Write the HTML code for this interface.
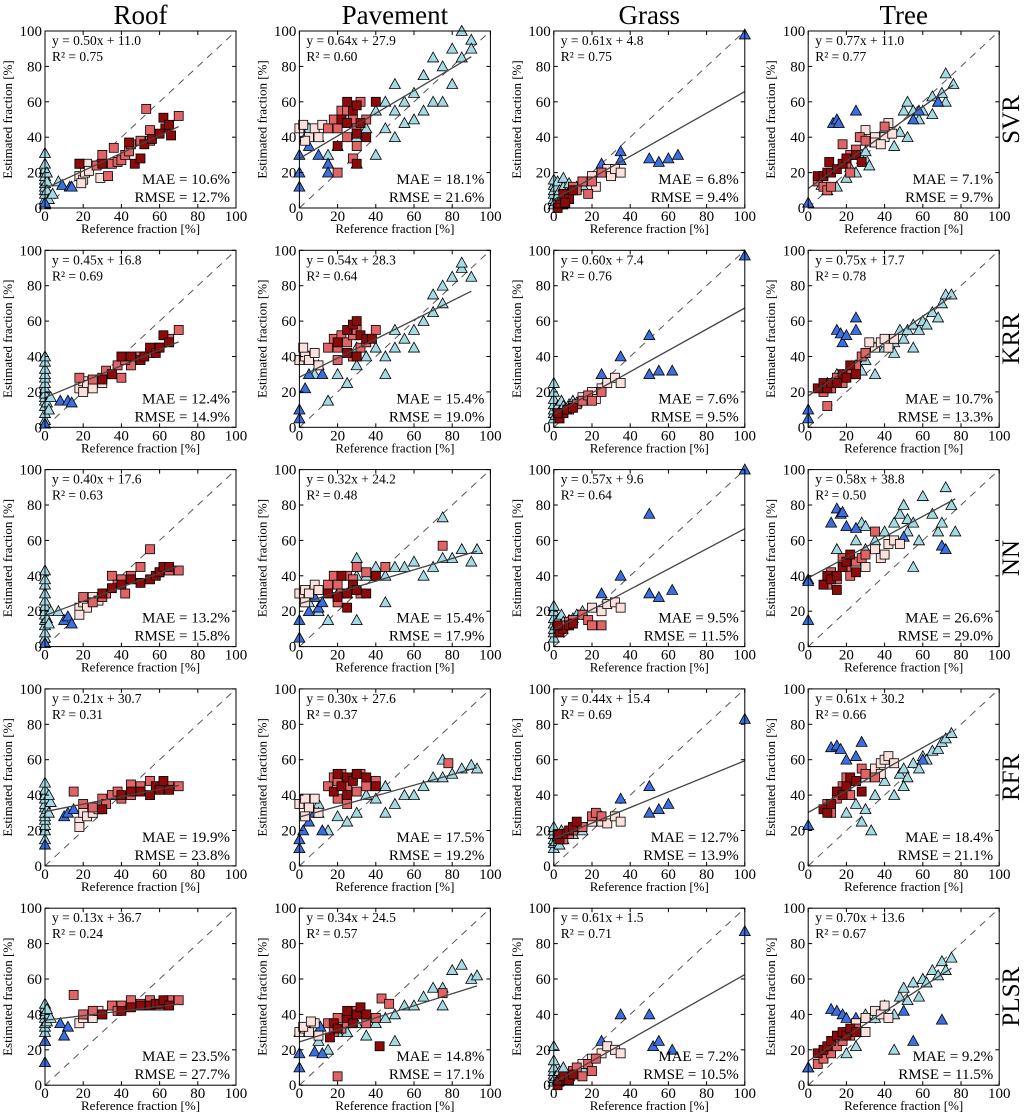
<!DOCTYPE html>
<html><head><meta charset="utf-8"><style>
body{margin:0;background:#fff}
svg{display:block;font-family:"Liberation Serif",serif}
</style></head><body>
<svg id="fig" width="1024" height="1116" viewBox="0 0 1024 1116" xmlns="http://www.w3.org/2000/svg"></svg>
<script>
const columns = ["Roof","Pavement","Grass","Tree"];
const models = ["SVR","KRR","NN","RFR","PLSR"];
const slopes = [[0.50,0.64,0.61,0.77],[0.45,0.54,0.60,0.75],[0.40,0.32,0.57,0.58],[0.21,0.30,0.44,0.61],[0.13,0.34,0.61,0.70]];
const intercepts = [[11.0,27.9,4.8,11.0],[16.8,28.3,7.4,17.7],[17.6,24.2,9.6,38.8],[30.7,27.6,15.4,30.2],[36.7,24.5,1.5,13.6]];
const r2 = [["0.75","0.60","0.75","0.77"],["0.69","0.64","0.76","0.78"],["0.63","0.48","0.64","0.50"],["0.31","0.37","0.69","0.66"],["0.24","0.57","0.71","0.67"]];
const maes = [["10.6","18.1","6.8","7.1"],["12.4","15.4","7.6","10.7"],["13.2","15.4","9.5","26.6"],["19.9","17.5","12.7","18.4"],["23.5","14.8","7.2","9.2"]];
const rmses = [["12.7","21.6","9.4","9.7"],["14.9","19.0","9.5","13.3"],["15.8","17.9","11.5","29.0"],["23.8","19.2","13.9","21.1"],["27.7","17.1","10.5","11.5"]];
const ticks = [0,20,40,60,80,100];

// point sets per panel: L light-blue tri, B blue tri, P pale sq, M mid-red sq, D dark-red sq
const svrRoof = {L:"0,2 0,5 0,8 0,10 0,12 0,14 0,16 0,18 0,20 0,22 0,25 0,31 1,15 1,10 2,5 4,8 7,15 1,20",B:"9,13 13,12 14,12 0,3",P:"18,18 20,16 21,20 22,25 23,21 19,14 29,17 32,25",M:"18,25 27,24 30,30 33,18 35,25 36,34 38,26 40,27 42,30 44,32 50,38 53,56 55,44 55,38 45,36 70,52",D:"18,25 30,25 44,37 47,25 50,28 52,36 56,39 62,51 63,45 65,47 66,41 60,42"};
const svrPave = {L:"5,45 10,40 15,30 25,50 30,40 35,45 40,30 40,55 45,60 45,45 50,55 50,40 55,60 55,48 60,65 60,50 65,55 65,75 70,60 70,85 75,80 75,60 80,90 80,70 85,100 85,85 90,95 90,90 50,70 30,25",B:"0,12 0,20 0,30 5,35 10,30 15,25 15,20 20,35 3,40",P:"0,45 2,47 5,40 8,45 10,40 3,38 12,47",M:"15,45 18,50 20,45 22,55 25,40 25,55 28,50 30,35 30,45 32,60 35,50 20,20 28,28",D:"20,35 22,50 25,48 28,55 30,58 30,42 32,48 35,40 25,60 40,60 30,25"};
const svrGrass = {L:"0,2 0,5 0,8 0,10 0,13 0,16 1,4 1,12 2,7 2,15 3,3 3,10 4,6 5,12 5,17 6,8 8,14 10,10 12,12 15,13",B:"25,25 35,32 35,27 50,28 55,26 60,28 65,30 100,98",P:"15,15 20,18 25,20 28,22 30,18 32,22 35,20 22,12",M:"5,5 8,8 10,12 12,10 15,15 18,8 20,15 5,2 25,20",D:"3,2 5,8 8,5 10,10 2,0 6,3"};
const svrTree = {L:"7,13 10,10 15,12 20,17 22,23 25,20 25,31 28,30 30,28 30,32 32,24 35,37 40,45 45,35 48,43 50,55 52,60 52,40 55,55 58,50 60,55 65,63 65,53 68,60 72,76 72,60 76,70 70,65",B:"0,3 13,48 15,50 16,48 25,55 55,50 58,55 68,60",P:"28,40 30,44 35,40 35,37 40,40 42,48 44,42 38,36",M:"5,15 8,12 10,10 12,12 18,36 20,25 22,30 25,33 27,40 30,38 40,46 22,20",D:"5,18 8,18 10,20 11,26 12,20 15,22 18,25 20,28 25,30 28,26"};
const krrRoof = {L:"0,4 0,8 0,12 0,15 0,17 0,19 0,22 0,25 0,28 0,30 0,33 0,37 0,40 1,14 2,10 3,17",B:"0,2 8,15 12,15 14,14",P:"18,22 20,26 22,24 20,20 25,22 30,25",M:"18,28 25,27 30,28 32,32 35,30 38,35 40,28 45,35 50,40 55,42 65,50 70,55 60,45 42,38",D:"30,27 40,40 45,40 50,38 52,40 55,45 58,42 60,45 62,52 65,48 35,30"};
const krrPave = {L:"5,40 8,30 15,15 20,30 25,25 30,35 35,40 40,45 45,40 50,55 50,45 55,50 60,55 60,45 65,60 70,65 70,75 75,70 75,80 80,85 85,90 85,93 90,85 30,45 45,30",B:"0,5 0,10 5,30 10,35 12,30 3,22",P:"0,38 3,40 5,38 8,42 10,35 2,45",M:"15,45 18,50 20,45 22,52 25,48 28,52 30,55 32,45 35,48 28,40 40,55 20,38",D:"20,48 25,55 28,58 30,60 32,52 35,50 25,42 30,40 38,50"};
const krrGrass = {L:"0,5 0,8 0,10 0,13 0,16 0,20 0,25 1,7 2,12 3,9 4,15 5,12 6,10 8,13 10,15 12,14 15,16",B:"25,30 35,40 50,52 50,30 55,32 62,32 100,97",P:"15,17 20,20 25,22 28,25 32,28 35,25 22,16",M:"5,8 8,10 10,12 12,13 15,15 18,18 20,15 25,20",D:"3,5 5,8 7,10 10,11 2,8"};
const krrTree = {L:"10,25 15,30 20,30 25,35 28,32 30,38 35,45 40,45 45,48 48,55 50,50 52,55 55,58 58,55 60,60 62,58 65,65 68,62 70,70 72,75 75,75 55,45 45,42 35,30",B:"0,5 0,10 15,55 17,53 18,48 20,52 25,62 25,55",P:"30,42 35,45 38,48 40,50 42,45 45,50 32,48",M:"8,20 10,12 12,22 15,28 18,25 20,30 25,35 28,40 22,30 30,42",D:"5,22 8,25 10,22 12,25 15,25 18,30 20,28 22,35 25,30"};
const nnRoof = {L:"0,5 0,8 0,12 0,15 0,18 0,20 0,23 0,26 0,30 0,35 0,38 0,43 1,16 2,13 3,20 7,20",B:"0,2 10,15 12,17 14,13",P:"18,22 20,25 22,22 25,28 18,18 28,26",M:"20,28 25,25 30,28 32,30 35,40 38,35 40,38 45,40 50,45 55,55 60,42 65,43 70,43 42,30",D:"30,30 40,35 45,38 50,36 55,38 58,40 60,42 62,45 65,45 35,33"};
const nnPave = {L:"5,25 10,20 15,15 20,30 25,30 30,50 30,40 35,40 40,45 45,40 50,45 55,45 60,48 65,40 70,45 75,50 75,73 80,50 85,55 90,48 93,55 30,15 45,25",B:"0,5 0,15 5,20 10,22 12,25 8,28",P:"0,30 3,32 5,30 8,35 10,32 3,25",M:"15,35 18,40 20,35 22,30 25,40 28,38 30,45 32,30 35,42 40,40 45,45 75,57 20,25",D:"15,30 20,28 22,40 25,30 28,35 30,32 35,30 40,40 25,22"};
const nnGrass = {L:"0,5 0,8 0,10 0,13 0,16 0,20 0,23 1,12 2,15 3,10 4,18 5,14 6,12 8,15 10,16 12,18 15,20",B:"25,30 35,40 50,75 50,30 55,28 62,32 100,100",P:"15,18 20,22 25,20 28,24 32,25 35,22",M:"5,12 8,14 10,15 15,18 18,15 20,12 25,12",D:"3,8 5,10 8,12 10,13 2,12"};
const nnTree = {L:"0,38 15,55 20,45 25,60 28,70 30,55 35,60 40,65 45,70 48,75 50,80 52,72 55,70 55,45 58,60 60,85 65,75 68,65 70,70 72,90 75,80 77,65 52,65 30,68",B:"0,15 0,37 12,70 15,78 17,75 18,76 20,68 25,67 50,62 70,57 72,55",P:"30,45 35,55 38,50 40,52 42,58 45,60 48,58",M:"10,35 12,42 15,38 18,50 20,45 22,40 25,48 28,50 30,52 35,65",D:"8,35 10,40 12,38 15,40 18,45 20,48 22,52 25,42 15,32"};
const rfrRoof = {L:"0,15 0,20 0,23 0,26 0,28 0,30 0,33 0,35 0,38 0,40 0,43 0,47 1,32 2,30 3,36 2,40",B:"0,12 10,28 12,30 15,32",P:"18,25 20,30 22,28 18,22 25,30 28,32",M:"20,35 25,33 30,38 32,35 35,40 38,42 40,38 45,40 50,45 55,48 60,45 65,45 70,45 15,42 45,46",D:"30,32 40,40 45,42 50,42 55,40 58,45 60,43 62,48 65,43"};
const rfrPave = {L:"5,30 10,35 15,20 20,28 25,25 30,30 35,40 40,38 45,30 50,35 55,40 60,40 65,45 70,50 75,50 80,52 85,55 90,57 93,55 75,60 45,45",B:"0,10 0,15 5,25 8,30 10,30 12,20 2,20",P:"0,35 3,38 5,33 8,38 10,30 3,28",M:"15,45 18,50 20,48 22,52 25,45 28,50 30,42 32,52 35,45 40,48 20,38 25,35 78,58",D:"18,42 20,52 22,45 25,50 28,48 30,52 35,50 25,40 40,45"};
const rfrGrass = {L:"0,10 0,13 0,15 0,18 0,20 0,22 1,14 2,17 3,12 4,20 5,15 6,18 8,20 10,18 12,22 15,20",B:"25,28 35,38 50,45 50,30 55,32 60,35 100,83",P:"15,22 20,25 25,25 28,24 32,28 35,25",M:"5,15 8,18 10,20 15,22 20,28 22,30 25,28",D:"3,15 5,18 8,20 10,22 2,18 12,25"};
const rfrTree = {L:"15,40 20,30 25,35 28,25 30,32 35,40 40,48 45,40 48,52 50,55 52,50 55,58 58,55 60,62 62,60 65,65 68,66 70,70 72,72 75,75 50,45 33,20",B:"0,23 12,67 15,68 17,66 20,60 25,62 28,70 60,60",P:"30,50 35,55 38,58 40,60 42,62 45,58 38,52",M:"10,35 12,30 15,38 18,45 20,50 22,40 25,48 28,55 30,52 35,50",D:"8,32 10,30 12,35 15,42 18,40 20,45 22,50 25,48 28,42"};
const plsrRoof = {L:"0,25 0,30 0,33 0,35 0,38 0,40 0,42 0,44 0,46 1,36 2,40 3,38 1,43",B:"0,13 0,25 8,35 12,33 10,28",P:"18,35 20,38 22,40 25,38 28,42",M:"15,51 20,40 25,42 30,40 35,45 38,42 40,45 45,48 50,46 55,48 60,45 65,48 70,48",D:"30,40 40,42 45,44 50,45 55,45 58,46 60,46 62,48 65,45"};
const plsrPave = {L:"5,30 10,25 15,20 20,30 25,30 30,35 35,28 40,35 45,38 50,40 55,45 60,45 65,50 70,55 75,55 80,65 85,68 90,60 93,62 75,45 50,25",B:"0,18 0,10 0,30 8,19 12,18 11,33",P:"0,30 3,32 5,30 8,35 10,28 2,33 6,36",M:"15,35 18,30 20,38 22,32 25,35 28,40 30,42 35,35 40,38 20,5 75,52 43,49 47,46",D:"18,35 20,32 25,38 28,35 30,40 32,44 35,40 25,42 42,22 16,27"};
const plsrGrass = {L:"0,2 0,4 0,6 0,8 0,10 0,14 0,22 1,5 2,3 3,8 4,6 5,10 6,3 8,5 10,8 12,6 15,10",B:"25,25 35,40 50,40 52,22 55,25 62,20 100,87",P:"15,12 20,15 25,18 28,22 32,20 35,18",M:"5,3 8,5 10,8 12,10 15,5 18,12 20,8 22,15",D:"3,2 5,5 8,3 10,6 2,0"};
const plsrTree = {L:"0,10 10,20 15,25 20,18 25,22 28,30 30,40 35,38 40,45 45,40 48,50 50,55 52,48 55,58 58,50 60,60 62,58 65,65 68,62 70,70 72,65 75,72 45,20",B:"0,10 12,43 15,42 18,40 20,38 25,38 50,42 55,25 70,37",P:"25,35 30,38 35,42 38,40 40,45 42,38 30,30",M:"5,12 8,15 10,20 12,18 15,22 18,25 20,30 22,28 25,32",D:"5,18 8,20 10,22 12,25 15,28 18,30 20,28 22,32 25,30"};

const panelSets = [[svrRoof,svrPave,svrGrass,svrTree],[krrRoof,krrPave,krrGrass,krrTree],[nnRoof,nnPave,nnGrass,nnTree],[rfrRoof,rfrPave,rfrGrass,rfrTree],[plsrRoof,plsrPave,plsrGrass,plsrTree]];

const NS="http://www.w3.org/2000/svg";
const svg=document.getElementById('fig');
function mk(tag,attrs,parent,txt){const e=document.createElementNS(NS,tag);for(const k in attrs)e.setAttribute(k,attrs[k]);if(txt!==undefined)e.textContent=txt;(parent||svg).appendChild(e);return e;}
function parse(s){return s.trim().split(/\s+/).map(p=>p.split(',').map(Number));}
const W=191,H=177;
const colors={L:"#a5dae4",B:"#3b6fe0",P:"#fbe0dc",M:"#e06466",D:"#8c0a0a"};

columns.forEach((c,ci)=>{
  const t=mk('text',{x:45+254.4*ci+W/2,y:24,'text-anchor':'middle','font-size':27},svg,c);
  
  
});
models.forEach((m,ri)=>{
  const cy=31+219.3*ri+H/2;
  const t=mk('text',{x:0,y:0,'text-anchor':'middle','font-size':25,transform:`translate(1019,${cy}) rotate(-90)`},svg,m);
  
  
});

for(let r=0;r<5;r++)for(let c=0;c<4;c++){
  const L=45+254.4*c, T=31+219.3*r;
  const g=mk('g',{});
  
  
  const sx=v=>L+v/100*W, sy=v=>T+H-v/100*H;
  mk('rect',{x:L,y:T,width:W,height:H,fill:'#fff',stroke:'none'},g);
  // 1:1 line
  const dl=mk('line',{x1:sx(0),y1:sy(0),x2:sx(100),y2:sy(100),stroke:'#555','stroke-width':1,'stroke-dasharray':'7,6'},g);
  
  
  const set=panelSets[r][c];
  const allPts=[];
  ['L','B','P','M','D'].forEach(k=>{
    parse(set[k]).forEach(([x,y])=>{
      allPts.push(x);
      let e;
      if(k==='L'||k==='B'){
        const px=sx(x),py=sy(y),s=5.5;
        e=mk('polygon',{points:`${px},${py-s} ${px+s},${py+s*0.8} ${px-s},${py+s*0.8}`,fill:colors[k],stroke:'#000','stroke-width':0.8},g);
      } else {
        e=mk('rect',{x:sx(x)-4.5,y:sy(y)-4.5,width:9,height:9,fill:colors[k],stroke:'#000','stroke-width':0.8},g);
      }
      
      
    });
  });
  const x0=Math.min(...allPts), x1=Math.max(...allPts);
  const fl=mk('line',{x1:sx(x0),y1:sy(slopes[r][c]*x0+intercepts[r][c]),x2:sx(x1),y2:sy(slopes[r][c]*x1+intercepts[r][c]),stroke:'#444','stroke-width':1.3},g);
  
  
  const fr=mk('rect',{x:L,y:T,width:W,height:H,fill:'none',stroke:'#000','stroke-width':1},g);
  
  
  ticks.forEach(v=>{
    mk('line',{x1:sx(v),y1:T+H,x2:sx(v),y2:T+H-4,stroke:'#000'},g);
    mk('line',{x1:sx(v),y1:T,x2:sx(v),y2:T+4,stroke:'#000'},g);
    mk('line',{x1:L,y1:sy(v),x2:L+4,y2:sy(v),stroke:'#000'},g);
    mk('line',{x1:L+W,y1:sy(v),x2:L+W-4,y2:sy(v),stroke:'#000'},g);
    const tx=mk('text',{x:sx(v),y:T+H+13,'text-anchor':'middle','font-size':15},g,String(v));
    
    
    const ty=mk('text',{x:L-3,y:sy(v)+5,'text-anchor':'end','font-size':15},g,String(v));
    
    
  });
  const xl=mk('text',{x:L+W/2,y:T+H+25,'text-anchor':'middle','font-size':13},g,'Reference fraction [%]');
  
  
  const yl=mk('text',{x:0,y:0,'text-anchor':'middle','font-size':13,transform:`translate(${L-33},${T+H/2}) rotate(-90)`},g,'Estimated fraction [%]');
  
  
  const eq=mk('text',{x:L+7,y:T+14,'font-size':13.5},g,`y = ${slopes[r][c].toFixed(2)}x + ${intercepts[r][c].toFixed(1)}`);
  
  
  const rr=mk('text',{x:L+7,y:T+30,'font-size':13.5},g,`R² = ${r2[r][c]}`);
  
  
  const ma=mk('text',{x:L+W-6,y:T+H-24,'text-anchor':'end','font-size':15},g,`MAE = ${maes[r][c]}%`);
  
  
  const rm=mk('text',{x:L+W-6,y:T+H-6,'text-anchor':'end','font-size':15},g,`RMSE = ${rmses[r][c]}%`);
  
  
}
</script>
</body></html>
